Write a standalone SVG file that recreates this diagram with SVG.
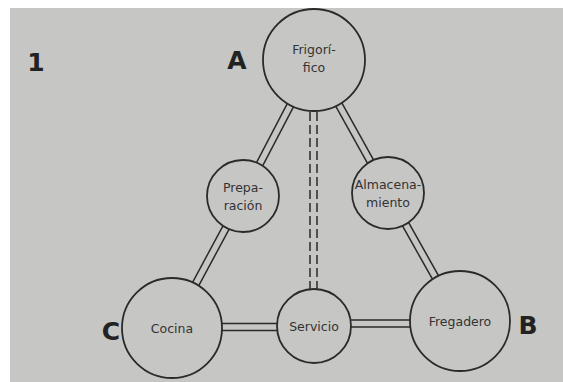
<svg xmlns="http://www.w3.org/2000/svg" width="563" height="382" viewBox="0 0 563 382">
<style>
.bg{fill:#c6c6c4}
.node{fill:#c6c6c4;stroke:#2a2a2a;stroke-width:1.8}
.t{font-family:"DejaVu Sans","Liberation Sans",sans-serif;font-size:12.5px;fill:#333;text-anchor:middle}
.big{font-family:"DejaVu Sans","Liberation Sans",sans-serif;font-size:25px;font-weight:bold;fill:#222;text-anchor:middle}
.outer{stroke:#2a2a2a;stroke-width:8.5;fill:none}
.inner{stroke:#c6c6c4;stroke-width:5.5;fill:none}
.dash{stroke:#2a2a2a;stroke-width:1.5;stroke-dasharray:9,4;fill:none}
</style>
<rect width="563" height="382" fill="#ffffff"/>
<rect x="10" y="8" width="553" height="374" class="bg"/>
<g id="connectors">
  <g class="outer">
    <line x1="314" y1="60" x2="243" y2="196"/>
    <line x1="243" y1="196" x2="172" y2="328"/>
    <line x1="172" y1="327" x2="314" y2="327"/>
    <line x1="314" y1="323.5" x2="460" y2="323.5"/>
    <line x1="314" y1="60" x2="388" y2="193"/>
    <line x1="388" y1="193" x2="460" y2="321"/>
  </g>
  <g class="inner">
    <line x1="314" y1="60" x2="243" y2="196"/>
    <line x1="243" y1="196" x2="172" y2="328"/>
    <line x1="172" y1="327" x2="314" y2="327"/>
    <line x1="314" y1="323.5" x2="460" y2="323.5"/>
    <line x1="314" y1="60" x2="388" y2="193"/>
    <line x1="388" y1="193" x2="460" y2="321"/>
  </g>
  <line class="dash" x1="310" y1="112" x2="310" y2="289"/>
  <line class="dash" x1="317" y1="112" x2="317" y2="289"/>
</g>
<g id="frigorifico">
  <circle class="node" cx="314" cy="60" r="51"/>
  <text class="t" x="314" y="54" font-size="14">Frigorí-</text>
  <text class="t" x="314" y="72" font-size="14">fico</text>
</g>
<g id="preparacion">
  <circle class="node" cx="243" cy="196" r="36"/>
  <text class="t" x="243" y="192">Prepa-</text>
  <text class="t" x="243" y="210">ración</text>
</g>
<g id="almacenamiento">
  <circle class="node" cx="388" cy="193" r="36"/>
  <text class="t" x="388" y="189">Almacena-</text>
  <text class="t" x="388" y="207">miento</text>
</g>
<g id="cocina">
  <circle class="node" cx="172" cy="328" r="50"/>
  <text class="t" x="172" y="333">Cocina</text>
</g>
<g id="servicio">
  <circle class="node" cx="314" cy="326" r="37"/>
  <text class="t" x="314" y="331">Servicio</text>
</g>
<g id="fregadero">
  <circle class="node" cx="460" cy="321" r="50"/>
  <text class="t" x="460" y="326">Fregadero</text>
</g>
<text class="big" x="237" y="69">A</text>
<text class="big" x="528" y="334">B</text>
<text class="big" x="111" y="340">C</text>
<text class="big" x="36" y="71" font-size="24">1</text>
</svg>
